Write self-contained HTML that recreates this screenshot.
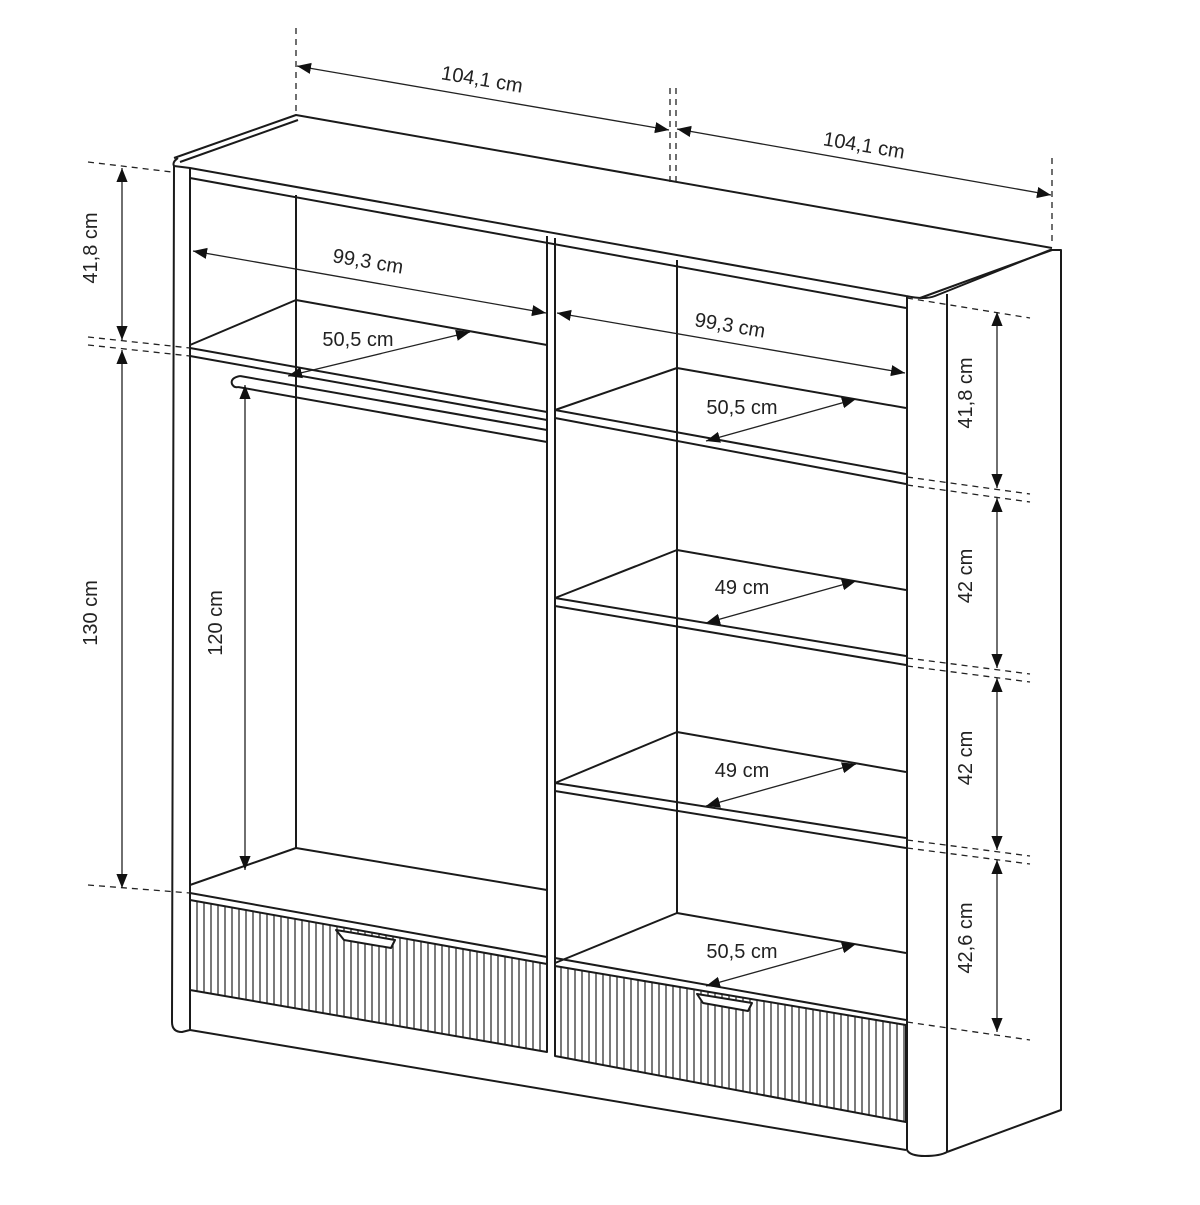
<!DOCTYPE html>
<html><head><meta charset="utf-8"><style>
html,body{margin:0;padding:0;background:#fff;}
svg{display:block}
text{font-family:"Liberation Sans",sans-serif;font-size:20px;fill:#222;}
</style></head><body>
<svg width="1200" height="1205" viewBox="0 0 1200 1205" xmlns="http://www.w3.org/2000/svg">
<defs>
<marker id="a" viewBox="0 0 10 10" refX="10" refY="5" markerWidth="9" markerHeight="9" orient="auto-start-reverse" markerUnits="userSpaceOnUse"><path d="M0,0 L10,5 L0,10 z" fill="#111"/></marker>
<marker id="b" viewBox="0 0 10 10" refX="10" refY="5" markerWidth="14" markerHeight="14" orient="auto-start-reverse" markerUnits="userSpaceOnUse"><path d="M0,1 L10,5 L0,9 z" fill="#111"/></marker>
<pattern id="fl" patternUnits="userSpaceOnUse" width="7" height="10"><rect width="7" height="10" fill="#fff"/><line x1="1" y1="0" x2="1" y2="10" stroke="#222" stroke-width="1.2"/></pattern>
</defs>
<g fill="none" stroke="#1a1a1a" stroke-width="2" stroke-linejoin="round">
<!-- top -->
<path d="M178,158 Q172,162 174,166 L190,168 L906,296"/>
<path d="M174,158 L296,115 L1052,248"/>
<path d="M180,162 L298,120"/>
<path d="M190,178 L906,308"/>
<!-- left panel -->
<path d="M174,166 L172,1022 Q172,1032 182,1032 L190,1030"/>
<line x1="190" y1="168" x2="190" y2="1030"/>
<!-- right panel -->
<path d="M906,296 Q925,300 935,296 L1050,250 L1061,250 L1061,1110 L947,1152"/>
<path d="M920,298 L1052,250"/>
<line x1="947" y1="294" x2="947" y2="1152"/>
<path d="M907,296 L907,1150 Q910,1156 925,1156 Q940,1156 947,1152"/>
<!-- divider -->
<line x1="547" y1="236" x2="547" y2="965"/>
<line x1="555" y1="238" x2="555" y2="966"/>
<!-- back lines -->
<line x1="296" y1="195" x2="296" y2="848"/>
<line x1="677" y1="260" x2="677" y2="913"/>
<!-- left shelf -->
<path d="M190,345 L296,300 L547,345"/>
<line x1="190" y1="348" x2="547" y2="412"/>
<line x1="190" y1="356" x2="547" y2="420"/>
<!-- rail -->
<path d="M240,376 L547,430 M238,387 L547,442 M240,376 Q230,378 232,384 Q234,388 238,387"/>
<!-- left bottom -->
<path d="M190,885 L296,848 L547,890"/>
<line x1="190" y1="893" x2="547" y2="957"/>
<!-- right shelves -->
<path d="M555,410 L677,368 L906,408"/>
<line x1="555" y1="410" x2="906" y2="474"/>
<line x1="555" y1="418" x2="906" y2="484"/>
<path d="M555,598 L677,550 L906,590"/>
<line x1="555" y1="598" x2="906" y2="656"/>
<line x1="555" y1="606" x2="906" y2="665"/>
<path d="M555,783 L677,732 L906,772"/>
<line x1="555" y1="783" x2="906" y2="838"/>
<line x1="555" y1="791" x2="906" y2="848"/>
<path d="M555,963 L677,913 L906,953"/>
<!-- drawers -->
<polygon points="190,900 547,964 547,1052 190,990" fill="url(#fl)"/>
<polygon points="555,966 906,1025 906,1122 555,1056" fill="url(#fl)"/>
<line x1="555" y1="958" x2="906" y2="1020"/>
<line x1="190" y1="1030" x2="906" y2="1150"/>
<path d="M336,930 L395,940 L391,948 L344,940 Z" fill="#fff"/>
<path d="M697,994 L752,1003 L748,1011 L703,1003 Z" fill="#fff"/>
</g>
<!-- dims -->
<g stroke="#222" stroke-width="1.3" fill="none">
<g stroke-dasharray="6,5">
<line x1="296" y1="28" x2="296" y2="112"/>
<line x1="670" y1="88" x2="670" y2="185"/>
<line x1="676" y1="88" x2="676" y2="185"/>
<line x1="1052" y1="158" x2="1052" y2="245"/>
<line x1="88" y1="162" x2="172" y2="172"/>
<line x1="88" y1="337" x2="190" y2="348"/>
<line x1="88" y1="345" x2="190" y2="356"/>
<line x1="88" y1="885" x2="190" y2="893"/>
<line x1="907" y1="298" x2="1030" y2="318"/>
<line x1="907" y1="477" x2="1030" y2="494"/>
<line x1="907" y1="485" x2="1030" y2="502"/>
<line x1="907" y1="658" x2="1030" y2="674"/>
<line x1="907" y1="666" x2="1030" y2="682"/>
<line x1="907" y1="840" x2="1030" y2="856"/>
<line x1="907" y1="848" x2="1030" y2="864"/>
<line x1="907" y1="1022" x2="1030" y2="1040"/>
</g>
<g marker-start="url(#b)" marker-end="url(#b)">
<line x1="297" y1="66" x2="669" y2="130"/>
<line x1="677" y1="129" x2="1051" y2="195"/>
<line x1="122" y1="168" x2="122" y2="340"/>
<line x1="122" y1="350" x2="122" y2="888"/>
<line x1="245" y1="385" x2="245" y2="870"/>
<line x1="193" y1="251" x2="546" y2="313"/>
<line x1="557" y1="313" x2="905" y2="373"/>
<line x1="288" y1="376" x2="470" y2="332"/>
<line x1="706" y1="441" x2="856" y2="399"/>
<line x1="706" y1="623" x2="856" y2="581"/>
<line x1="706" y1="806" x2="856" y2="764"/>
<line x1="706" y1="986" x2="856" y2="944"/>
<line x1="997" y1="312" x2="997" y2="488"/>
<line x1="997" y1="498" x2="997" y2="668"/>
<line x1="997" y1="678" x2="997" y2="850"/>
<line x1="997" y1="860" x2="997" y2="1032"/>
</g>
</g>
<g>
<text x="482" y="86" text-anchor="middle" transform="rotate(9.5 482 80)">104,1 cm</text>
<text x="864" y="152" text-anchor="middle" transform="rotate(9.5 864 146)">104,1 cm</text>
<text x="368" y="268" text-anchor="middle" transform="rotate(9.5 368 262)">99,3 cm</text>
<text x="730" y="332" text-anchor="middle" transform="rotate(9.5 730 326)">99,3 cm</text>
<text x="358" y="346" text-anchor="middle">50,5 cm</text>
<text x="742" y="414" text-anchor="middle">50,5 cm</text>
<text x="742" y="594" text-anchor="middle">49 cm</text>
<text x="742" y="777" text-anchor="middle">49 cm</text>
<text x="742" y="958" text-anchor="middle">50,5 cm</text>
<text x="104" y="255" text-anchor="middle" transform="rotate(-90 97 255)">41,8 cm</text>
<text x="104" y="620" text-anchor="middle" transform="rotate(-90 97 620)">130 cm</text>
<text x="229" y="630" text-anchor="middle" transform="rotate(-90 222 630)">120 cm</text>
<text x="979" y="400" text-anchor="middle" transform="rotate(-90 972 400)">41,8 cm</text>
<text x="979" y="583" text-anchor="middle" transform="rotate(-90 972 583)">42 cm</text>
<text x="979" y="765" text-anchor="middle" transform="rotate(-90 972 765)">42 cm</text>
<text x="979" y="945" text-anchor="middle" transform="rotate(-90 972 945)">42,6 cm</text>
</g>
</svg>
</body></html>
